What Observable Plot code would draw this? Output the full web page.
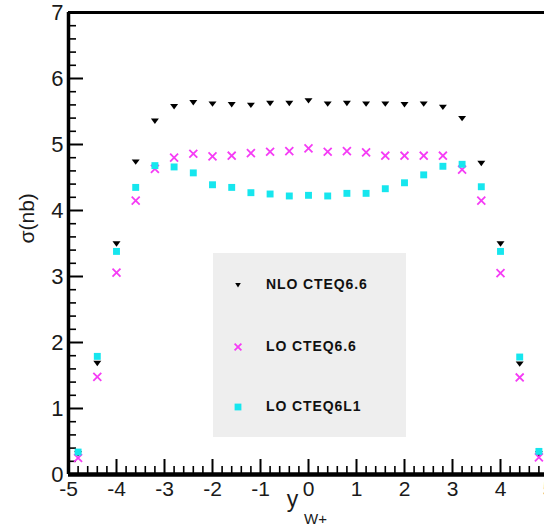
<!DOCTYPE html>
<html>
<head>
<meta charset="utf-8">
<script src="https://cdn.jsdelivr.net/npm/d3@7"></script>
<script src="https://cdn.jsdelivr.net/npm/@observablehq/plot@0.6"></script>
<style>
  html, body { margin: 0; padding: 0; background: #fff; overflow: hidden; }
  #wrap { position: relative; width: 544px; height: 527px; font-family: "Liberation Sans", Arial, sans-serif; }
  #legend { position: absolute; left: 213px; top: 253px; width: 193px; height: 184px; background: #eeeeee; }
  .entry { position: absolute; left: 0; height: 20px; display: flex; align-items: center; }
  .entry svg { position: absolute; left: 16px; top: 1px; }
  .entry span { position: absolute; left: 53px; white-space: nowrap; font-weight: bold; font-size: 14px; letter-spacing: 0.9px; color: #111; top: 1px; }
</style>
</head>
<body>
<div id="wrap"></div>
<script>
// ---- data ----
const rapidity = [-4.8,-4.4,-4.0,-3.6,-3.2,-2.8,-2.4,-2.0,-1.6,-1.2,-0.8,-0.4,0,0.4,0.8,1.2,1.6,2.0,2.4,2.8,3.2,3.6,4.0,4.4,4.8];
const nloCteq66 = [0.32,1.69,3.50,4.74,5.36,5.58,5.64,5.62,5.61,5.60,5.63,5.63,5.67,5.62,5.63,5.62,5.62,5.61,5.62,5.57,5.40,4.72,3.50,1.68,0.32];
const loCteq66  = [0.25,1.48,3.06,4.15,4.63,4.80,4.86,4.82,4.83,4.87,4.89,4.90,4.94,4.89,4.90,4.88,4.83,4.83,4.83,4.83,4.62,4.15,3.05,1.47,0.26];
const loCteq6l1 = [0.34,1.79,3.38,4.35,4.68,4.66,4.57,4.39,4.35,4.27,4.25,4.22,4.23,4.22,4.26,4.26,4.33,4.42,4.54,4.67,4.70,4.36,3.38,1.78,0.35];
const seriesNames = ["NLO CTEQ6.6", "LO CTEQ6.6", "LO CTEQ6L1"];
const xTicks = [-5,-4,-3,-2,-1,0,1,2,3,4,5];
const yTicks = [0,1,2,3,4,5,6,7];
const xMinor = d3.range(-50, 51, 2).map(v => v/10).filter(v => !Number.isInteger(v));
const yMinor = d3.range(0, 71, 2).map(v => v/10).filter(v => !Number.isInteger(v));

const colors = {nlo: "#000000", lo: "#f53cf5", l1: "#16e6ee"};

const triangleDown = {
  draw(context, size) {
    const r = Math.sqrt(size / Math.PI);
    const w = r * 0.95, h = r * 0.85;
    context.moveTo(-w, -h * 0.6);
    context.lineTo(w, -h * 0.6);
    context.lineTo(0, h * 0.9);
    context.closePath();
  }
};

const rows = (vals) => rapidity.map((x, i) => ({x, y: vals[i]}));

const W = 544, H = 527, mL = 68, mT = 12, mB = 53;
const frameW = W - mL, frameH = H - mT - mB;

const chart = Plot.plot({
  width: W, height: H,
  marginLeft: mL, marginRight: 0, marginTop: mT, marginBottom: mB,
  style: {fontFamily: "'Liberation Sans', Arial, sans-serif", background: "#fff"},
  x: {domain: [-5, 5], range: [mL, 548]},
  y: {domain: [0, 7]},
  marks: [
    // minor & major ticks (inward)
    Plot.tickX(xMinor, {x: d => d, insetTop: frameH - 8, stroke: "#000", strokeWidth: 1.6}),
    Plot.tickX(xTicks, {x: d => d, insetTop: frameH - 15, stroke: "#000", strokeWidth: 2}),
    Plot.tickY(yMinor, {y: d => d, insetRight: frameW - 8, stroke: "#000", strokeWidth: 1.6}),
    Plot.tickY(yTicks, {y: d => d, insetRight: frameW - 15, stroke: "#000", strokeWidth: 2}),
    // frame lines
    Plot.ruleY([7], {stroke: "#000", strokeWidth: 3.2}),
    Plot.ruleX([-5], {stroke: "#000", strokeWidth: 3.5}),
    Plot.ruleY([0], {stroke: "#000", strokeWidth: 4.5}),
    // axes labels
    Plot.axisX({ticks: xTicks, tickSize: 0, tickPadding: 7, tickFormat: d => String(d), fontSize: 21, fill: "#1a1a1a", label: null}),
    Plot.axisY({ticks: yTicks, tickSize: 0, tickPadding: 5, tickFormat: d => String(d), fontSize: 22, fill: "#1a1a1a", label: null}),
    Plot.text(["σ(nb)"], {frameAnchor: "left", dx: -41, rotate: -90, fontSize: 21, fill: "#1a1a1a"}),
    Plot.text(["y"], {frameAnchor: "bottom", lineAnchor: "middle", dx: -14, dy: 25, fontSize: 23, fill: "#1a1a1a"}),
    Plot.text(["W+"], {frameAnchor: "bottom", lineAnchor: "middle", dx: 9, dy: 45, fontSize: 15, fill: "#1a1a1a"}),
    // data
    Plot.dot(rows(nloCteq66), {x: "x", y: "y", symbol: triangleDown, r: 4.2, fill: colors.nlo, stroke: "none"}),
    Plot.dot(rows(loCteq66), {x: "x", y: "y", symbol: "times", r: 3.7, stroke: colors.lo, strokeWidth: 1.8, fill: "none"}),
    Plot.dot(rows(loCteq6l1), {x: "x", y: "y", symbol: "square", r: 3.9, fill: colors.l1, stroke: "none"})
  ]
});

const wrap = document.getElementById("wrap");
wrap.appendChild(chart);

// legend (inside plot area)
const legend = document.createElement("div");
legend.id = "legend";
const entryTops = [22, 84, 144];
const icons = [
  `<svg width="18" height="18" viewBox="-9 -9 18 18"><path d="M-2.8,-2 L2.8,-2 L0,2.6 Z" fill="${colors.nlo}"/></svg>`,
  `<svg width="18" height="18" viewBox="-9 -9 18 18"><path d="M-3.4,-3.4 L3.4,3.4 M-3.4,3.4 L3.4,-3.4" stroke="${colors.lo}" stroke-width="1.8" fill="none"/></svg>`,
  `<svg width="18" height="18" viewBox="-9 -9 18 18"><rect x="-3.4" y="-3.4" width="6.8" height="6.8" fill="${colors.l1}"/></svg>`
];
seriesNames.forEach((name, i) => {
  const e = document.createElement("div");
  e.className = "entry";
  e.style.top = entryTops[i] + "px";
  e.innerHTML = icons[i] + `<span>${name}</span>`;
  legend.appendChild(e);
});
wrap.appendChild(legend);
</script>
</body>
</html>
